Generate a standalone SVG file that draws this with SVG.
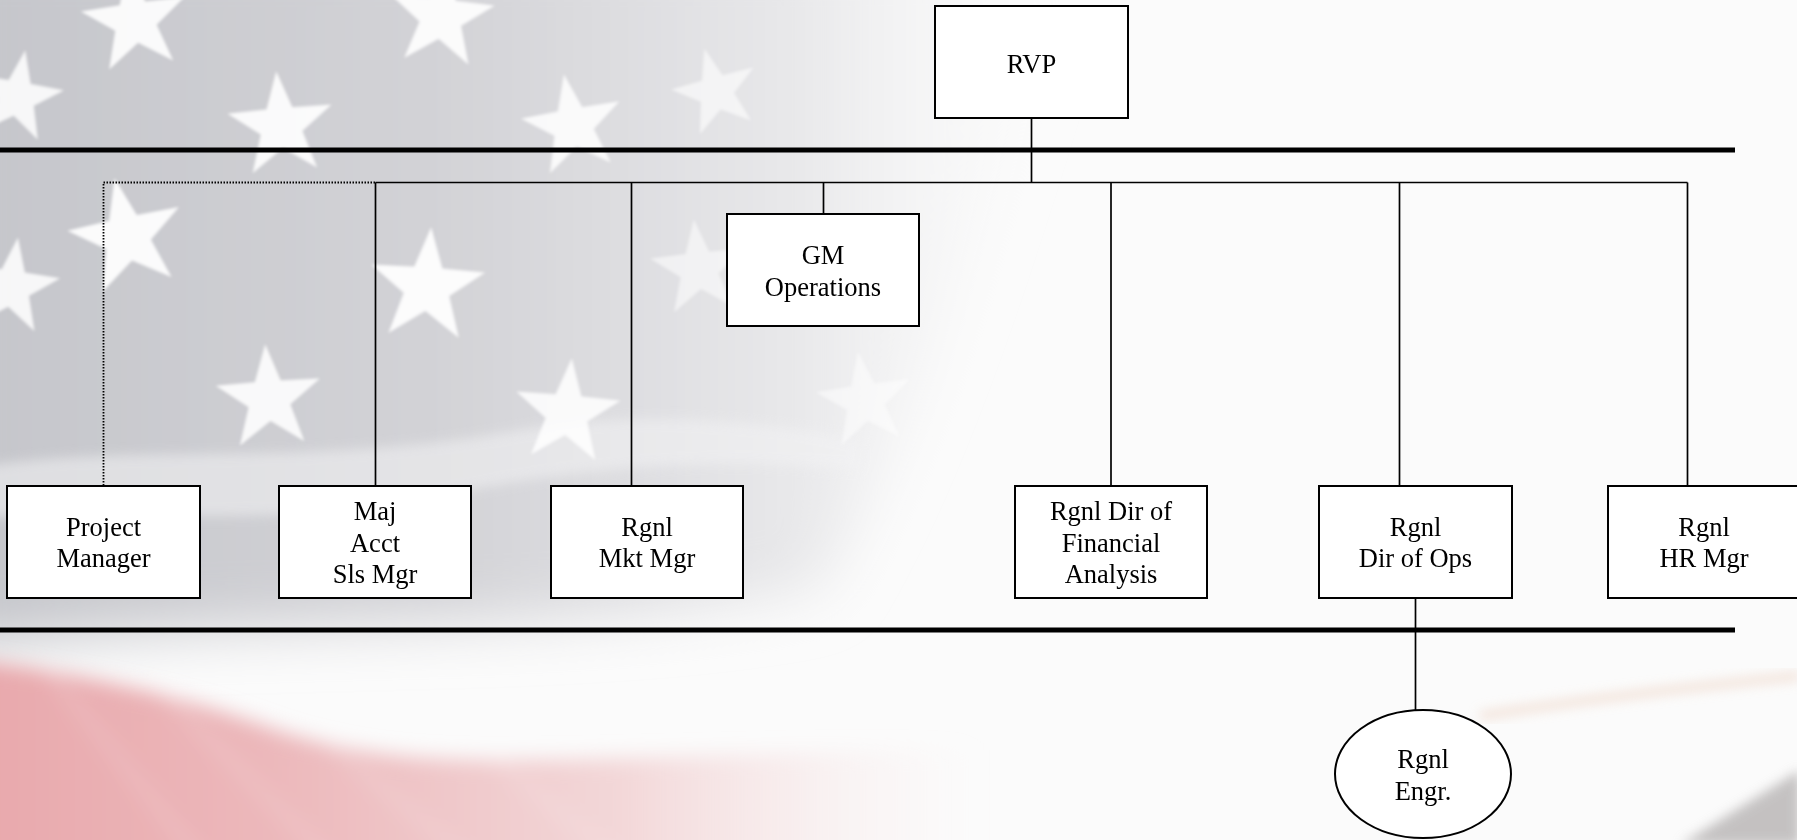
<svg xmlns="http://www.w3.org/2000/svg" width="1797" height="840" viewBox="0 0 1797 840">
  <defs>
    <style>
      .box { fill: #ffffff; stroke: #000000; stroke-width: 2; }
      .lbl { font-family: "Liberation Serif", "Times New Roman", serif; font-size: 26.5px; fill: #000000; text-anchor: middle; }
      .wire { stroke: #000000; stroke-width: 1.7; fill: none; }
      .dotted { stroke: #000000; stroke-width: 1.8; fill: none; stroke-dasharray: 1.5 1.5; }
      .bar { stroke: #000000; stroke-width: 5; }
      .star { fill: #ffffff; }
    </style>
    <path id="star" d="M0,-50 L11.76,-16.18 L47.55,-15.45 L19.02,6.18 L29.39,40.45 L0,20 L-29.39,40.45 L-19.02,6.18 L-47.55,-15.45 L-11.76,-16.18 Z"/>
    <linearGradient id="cantonFill" x1="0" y1="0" x2="1" y2="0">
      <stop offset="0" stop-color="#c4c5ca"/>
      <stop offset="0.45" stop-color="#d3d3d7"/>
      <stop offset="0.75" stop-color="#e8e8ea"/>
      <stop offset="1" stop-color="#fafafa" stop-opacity="0"/>
    </linearGradient>
    <linearGradient id="redFill" x1="0" y1="0" x2="1" y2="0">
      <stop offset="0" stop-color="#e8a8ac"/>
      <stop offset="0.3" stop-color="#ecb8bb"/>
      <stop offset="0.65" stop-color="#f3d8d9"/>
      <stop offset="1" stop-color="#f8eeee" stop-opacity="0"/>
    </linearGradient>
    <filter id="soft" x="-20%" y="-20%" width="140%" height="140%">
      <feGaussianBlur stdDeviation="28"/>
    </filter>
    <filter id="softer" x="-20%" y="-20%" width="140%" height="140%">
      <feGaussianBlur stdDeviation="6"/>
    </filter>
    <filter id="redBlur" x="-10%" y="-30%" width="120%" height="160%">
      <feGaussianBlur stdDeviation="10"/>
    </filter>
    <filter id="starBlur" x="-20%" y="-20%" width="140%" height="140%">
      <feGaussianBlur stdDeviation="1.6"/>
    </filter>
    <clipPath id="redClip">
      <path d="M-30,660 C80,672 180,696 260,724 C330,750 400,760 500,760 C650,760 800,750 980,750 L980,880 L-30,880 Z"/>
    </clipPath>
  </defs>

  <!-- backdrop: faded waving flag -->
  <g id="backdrop">
    <rect x="0" y="0" width="1797" height="840" fill="#fbfbfb"/>
    <path d="M-60,-60 H1080 C980,220 920,430 820,590 C560,640 260,610 -60,650 Z" fill="url(#cantonFill)" filter="url(#soft)"/>
    <path d="M-40,470 C120,440 300,470 520,430 C640,410 760,420 860,440 L860,470 C700,455 560,470 420,500 C250,530 100,505 -40,520 Z" fill="#f3f3f4" opacity="0.55" filter="url(#softer)"/>
    <g filter="url(#starBlur)">
      <use href="#star" class="star" transform="translate(135,21) rotate(-8) scale(1.1)" opacity="0.9"/>
      <use href="#star" class="star" transform="translate(17,97) rotate(10) scale(0.95)" opacity="0.85"/>
      <use href="#star" class="star" transform="translate(281,126) rotate(-5) scale(1.1)" opacity="0.9"/>
      <use href="#star" class="star" transform="translate(441,17) rotate(6) scale(1.1)" opacity="0.9"/>
      <use href="#star" class="star" transform="translate(573,126) rotate(-10) scale(1.05)" opacity="0.85"/>
      <use href="#star" class="star" transform="translate(716,92) rotate(-15) scale(0.9)" opacity="0.6"/>
      <use href="#star" class="star" transform="translate(127,237) rotate(-12) scale(1.2)" opacity="0.92"/>
      <use href="#star" class="star" transform="translate(427,287) rotate(4) scale(1.2)" opacity="0.92"/>
      <use href="#star" class="star" transform="translate(11,287) rotate(8) scale(1.0)" opacity="0.85"/>
      <use href="#star" class="star" transform="translate(699,269) rotate(-6) scale(1.0)" opacity="0.55"/>
      <use href="#star" class="star" transform="translate(269,399) rotate(-4) scale(1.1)" opacity="0.88"/>
      <use href="#star" class="star" transform="translate(567,413) rotate(5) scale(1.1)" opacity="0.85"/>
      <use href="#star" class="star" transform="translate(865,401) rotate(-8) scale(1.0)" opacity="0.5"/>
    </g>
    <g filter="url(#redBlur)">
      <g clip-path="url(#redClip)">
        <rect x="-30" y="640" width="1010" height="240" fill="url(#redFill)"/>
        <g stroke="#ffffff" stroke-width="6" opacity="0.25">
          <line x1="40" y1="660" x2="200" y2="860"/>
          <line x1="150" y1="680" x2="330" y2="860"/>
          <line x1="300" y1="720" x2="470" y2="860"/>
          <line x1="470" y1="740" x2="620" y2="860"/>
        </g>
      </g>
    </g>
    <path d="M1480,716 C1580,700 1680,688 1800,676" stroke="#efd9cc" stroke-width="9" fill="none" opacity="0.7" filter="url(#softer)"/>
    <path d="M1800,770 L1800,845 L1680,845 C1720,820 1760,795 1800,770 Z" fill="#a09c9c" opacity="0.6" filter="url(#softer)"/>
  </g>

  <!-- horizontal rules -->
  <g id="rules">
    <line class="bar" x1="0" y1="150" x2="1735" y2="150"/>
    <line class="bar" x1="0" y1="630" x2="1735" y2="630"/>
  </g>

  <!-- reporting lines -->
  <g id="connectors">
    <line class="wire" x1="1031.5" y1="118" x2="1031.5" y2="182.5"/>
    <line class="wire" x1="375.5" y1="182.5" x2="1687.5" y2="182.5"/>
    <line class="wire" x1="375.5" y1="182.5" x2="375.5" y2="486"/>
    <line class="wire" x1="631.5" y1="182.5" x2="631.5" y2="486"/>
    <line class="wire" x1="823.5" y1="182.5" x2="823.5" y2="214"/>
    <line class="wire" x1="1111" y1="182.5" x2="1111" y2="486"/>
    <line class="wire" x1="1399.5" y1="182.5" x2="1399.5" y2="486"/>
    <line class="wire" x1="1687.5" y1="182.5" x2="1687.5" y2="486"/>
    <line class="wire" x1="1415.5" y1="598" x2="1415.5" y2="710"/>
    <polyline class="dotted" points="375,182.5 103.5,182.5 103.5,486"/>
  </g>

  <g id="rvp">
    <rect class="box" x="935" y="6" width="193" height="112"/>
    <text class="lbl" x="1031.5" y="72.7">RVP</text>
  </g>

  <g id="gm-operations">
    <rect class="box" x="727" y="214" width="192" height="112"/>
    <text class="lbl" x="823" y="264">GM</text>
    <text class="lbl" x="823" y="296">Operations</text>
  </g>

  <g id="project-manager">
    <rect class="box" x="7" y="486" width="193" height="112"/>
    <text class="lbl" x="103.5" y="535.7">Project</text>
    <text class="lbl" x="103.5" y="567.3">Manager</text>
  </g>

  <g id="maj-acct-sls-mgr">
    <rect class="box" x="279" y="486" width="192" height="112"/>
    <text class="lbl" x="375" y="520">Maj</text>
    <text class="lbl" x="375" y="551.7">Acct</text>
    <text class="lbl" x="375" y="583.3">Sls Mgr</text>
  </g>

  <g id="rgnl-mkt-mgr">
    <rect class="box" x="551" y="486" width="192" height="112"/>
    <text class="lbl" x="647" y="535.7">Rgnl</text>
    <text class="lbl" x="647" y="567.3">Mkt Mgr</text>
  </g>

  <g id="rgnl-dir-financial-analysis">
    <rect class="box" x="1015" y="486" width="192" height="112"/>
    <text class="lbl" x="1111" y="520">Rgnl Dir of</text>
    <text class="lbl" x="1111" y="551.7">Financial</text>
    <text class="lbl" x="1111" y="583.3">Analysis</text>
  </g>

  <g id="rgnl-dir-ops">
    <rect class="box" x="1319" y="486" width="193" height="112"/>
    <text class="lbl" x="1415.5" y="535.7">Rgnl</text>
    <text class="lbl" x="1415.5" y="567.3">Dir of Ops</text>
  </g>

  <g id="rgnl-hr-mgr">
    <rect class="box" x="1608" y="486" width="193" height="112"/>
    <text class="lbl" x="1704" y="535.7">Rgnl</text>
    <text class="lbl" x="1704" y="567.3">HR Mgr</text>
  </g>

  <g id="rgnl-engr">
    <ellipse class="box" cx="1423" cy="774" rx="88" ry="64"/>
    <text class="lbl" x="1423" y="767.7">Rgnl</text>
    <text class="lbl" x="1423" y="800">Engr.</text>
  </g>
</svg>
